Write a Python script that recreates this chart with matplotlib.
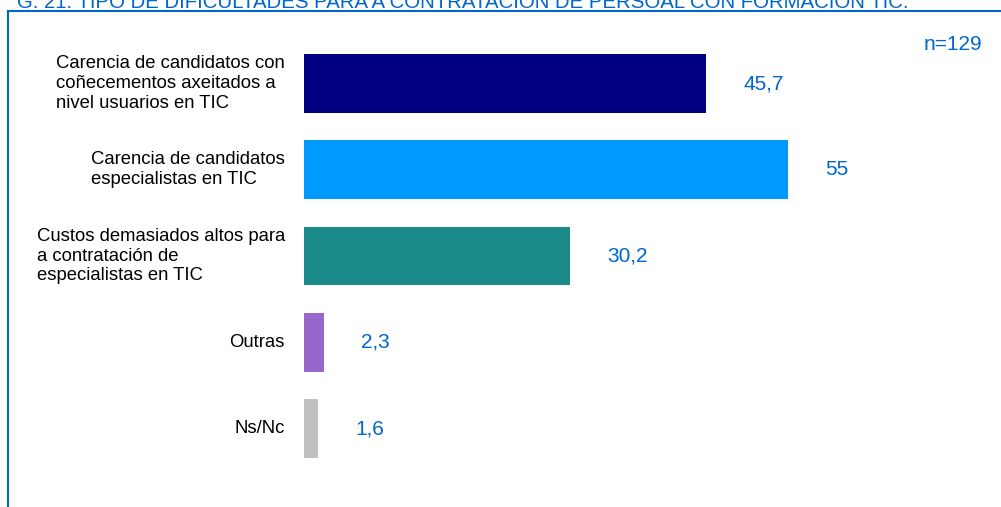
import matplotlib
matplotlib.use("Agg")
import matplotlib.pyplot as plt
from matplotlib.lines import Line2D
from matplotlib.transforms import offset_copy
from matplotlib import font_manager

categories = [
    "Carencia de candidatos con\ncoñecementos axeitados a\nnivel usuarios en TIC",
    "Carencia de candidatos\nespecialistas en TIC",
    "Custos demasiados altos para\na contratación de\nespecialistas en TIC",
    "Outras",
    "Ns/Nc",
]
values = [45.7, 55, 30.2, 2.3, 1.6]
value_labels = ["45,7", "55", "30,2", "2,3", "1,6"]
colors = ["#000080", "#0099FF", "#1A8A8A", "#9966CC", "#C0C0C0"]
title = "G. 21: TIPO DE DIFICULTADES PARA A CONTRATACIÓN DE PERSOAL CON FORMACIÓN TIC."
n_label = "n=129"

names = {f.name for f in font_manager.fontManager.ttflist}
base = "Liberation Sans" if "Liberation Sans" in names else "DejaVu Sans"
narrow = "Liberation Sans Narrow" if "Liberation Sans Narrow" in names else base
plt.rcParams["font.family"] = [base, "DejaVu Sans"]

W, H = 1001, 507
fig = plt.figure(figsize=(W / 100, H / 100), dpi=100)
ax_left_px, ax_top_px, ax_bot_px = 304, 40.4, 471.7
ax = fig.add_axes([ax_left_px / W, (H - ax_bot_px) / H, (W - ax_left_px) / W, (ax_bot_px - ax_top_px) / H])
xmax = (W - ax_left_px) / 8.8
ax.set_xlim(0, xmax)
ax.set_ylim(4.5, -0.5)
ypos = list(range(len(values)))
ax.barh(ypos, values, height=0.68, color=colors)
ax.axis("off")

blue = "#0066CC"
cat_tr = offset_copy(ax.transData, fig=fig, x=-19, y=0, units="dots")
for i, c in enumerate(categories):
    ax.text(0, i, c, transform=cat_tr, ha="right", va="center", multialignment="left",
            fontsize=13.3, color="#000000", linespacing=1.2)
val_tr = offset_copy(ax.transData, fig=fig, x=37, y=0, units="dots")
for i, (v, lab) in enumerate(zip(values, value_labels)):
    ax.text(v, i, lab, transform=val_tr, ha="left", va="center", fontsize=15, color=blue)

fig.text(982 / W, 1 - 45 / H, n_label, ha="right", va="center", fontsize=15, color=blue)
fig.text(17 / W, 1 - 8 / H, title, ha="left", va="baseline", fontsize=14.7, color=blue,
         family=[narrow, "DejaVu Sans"])

fig.add_artist(Line2D([7.5 / W, 7.5 / W], [0, 1 - 10.5 / H], transform=fig.transFigure, color=blue, lw=1.5))
fig.add_artist(Line2D([7.5 / W, 1], [1 - 10.5 / H, 1 - 10.5 / H], transform=fig.transFigure, color=blue, lw=1.5))

fig.savefig("out.png", dpi=100)
